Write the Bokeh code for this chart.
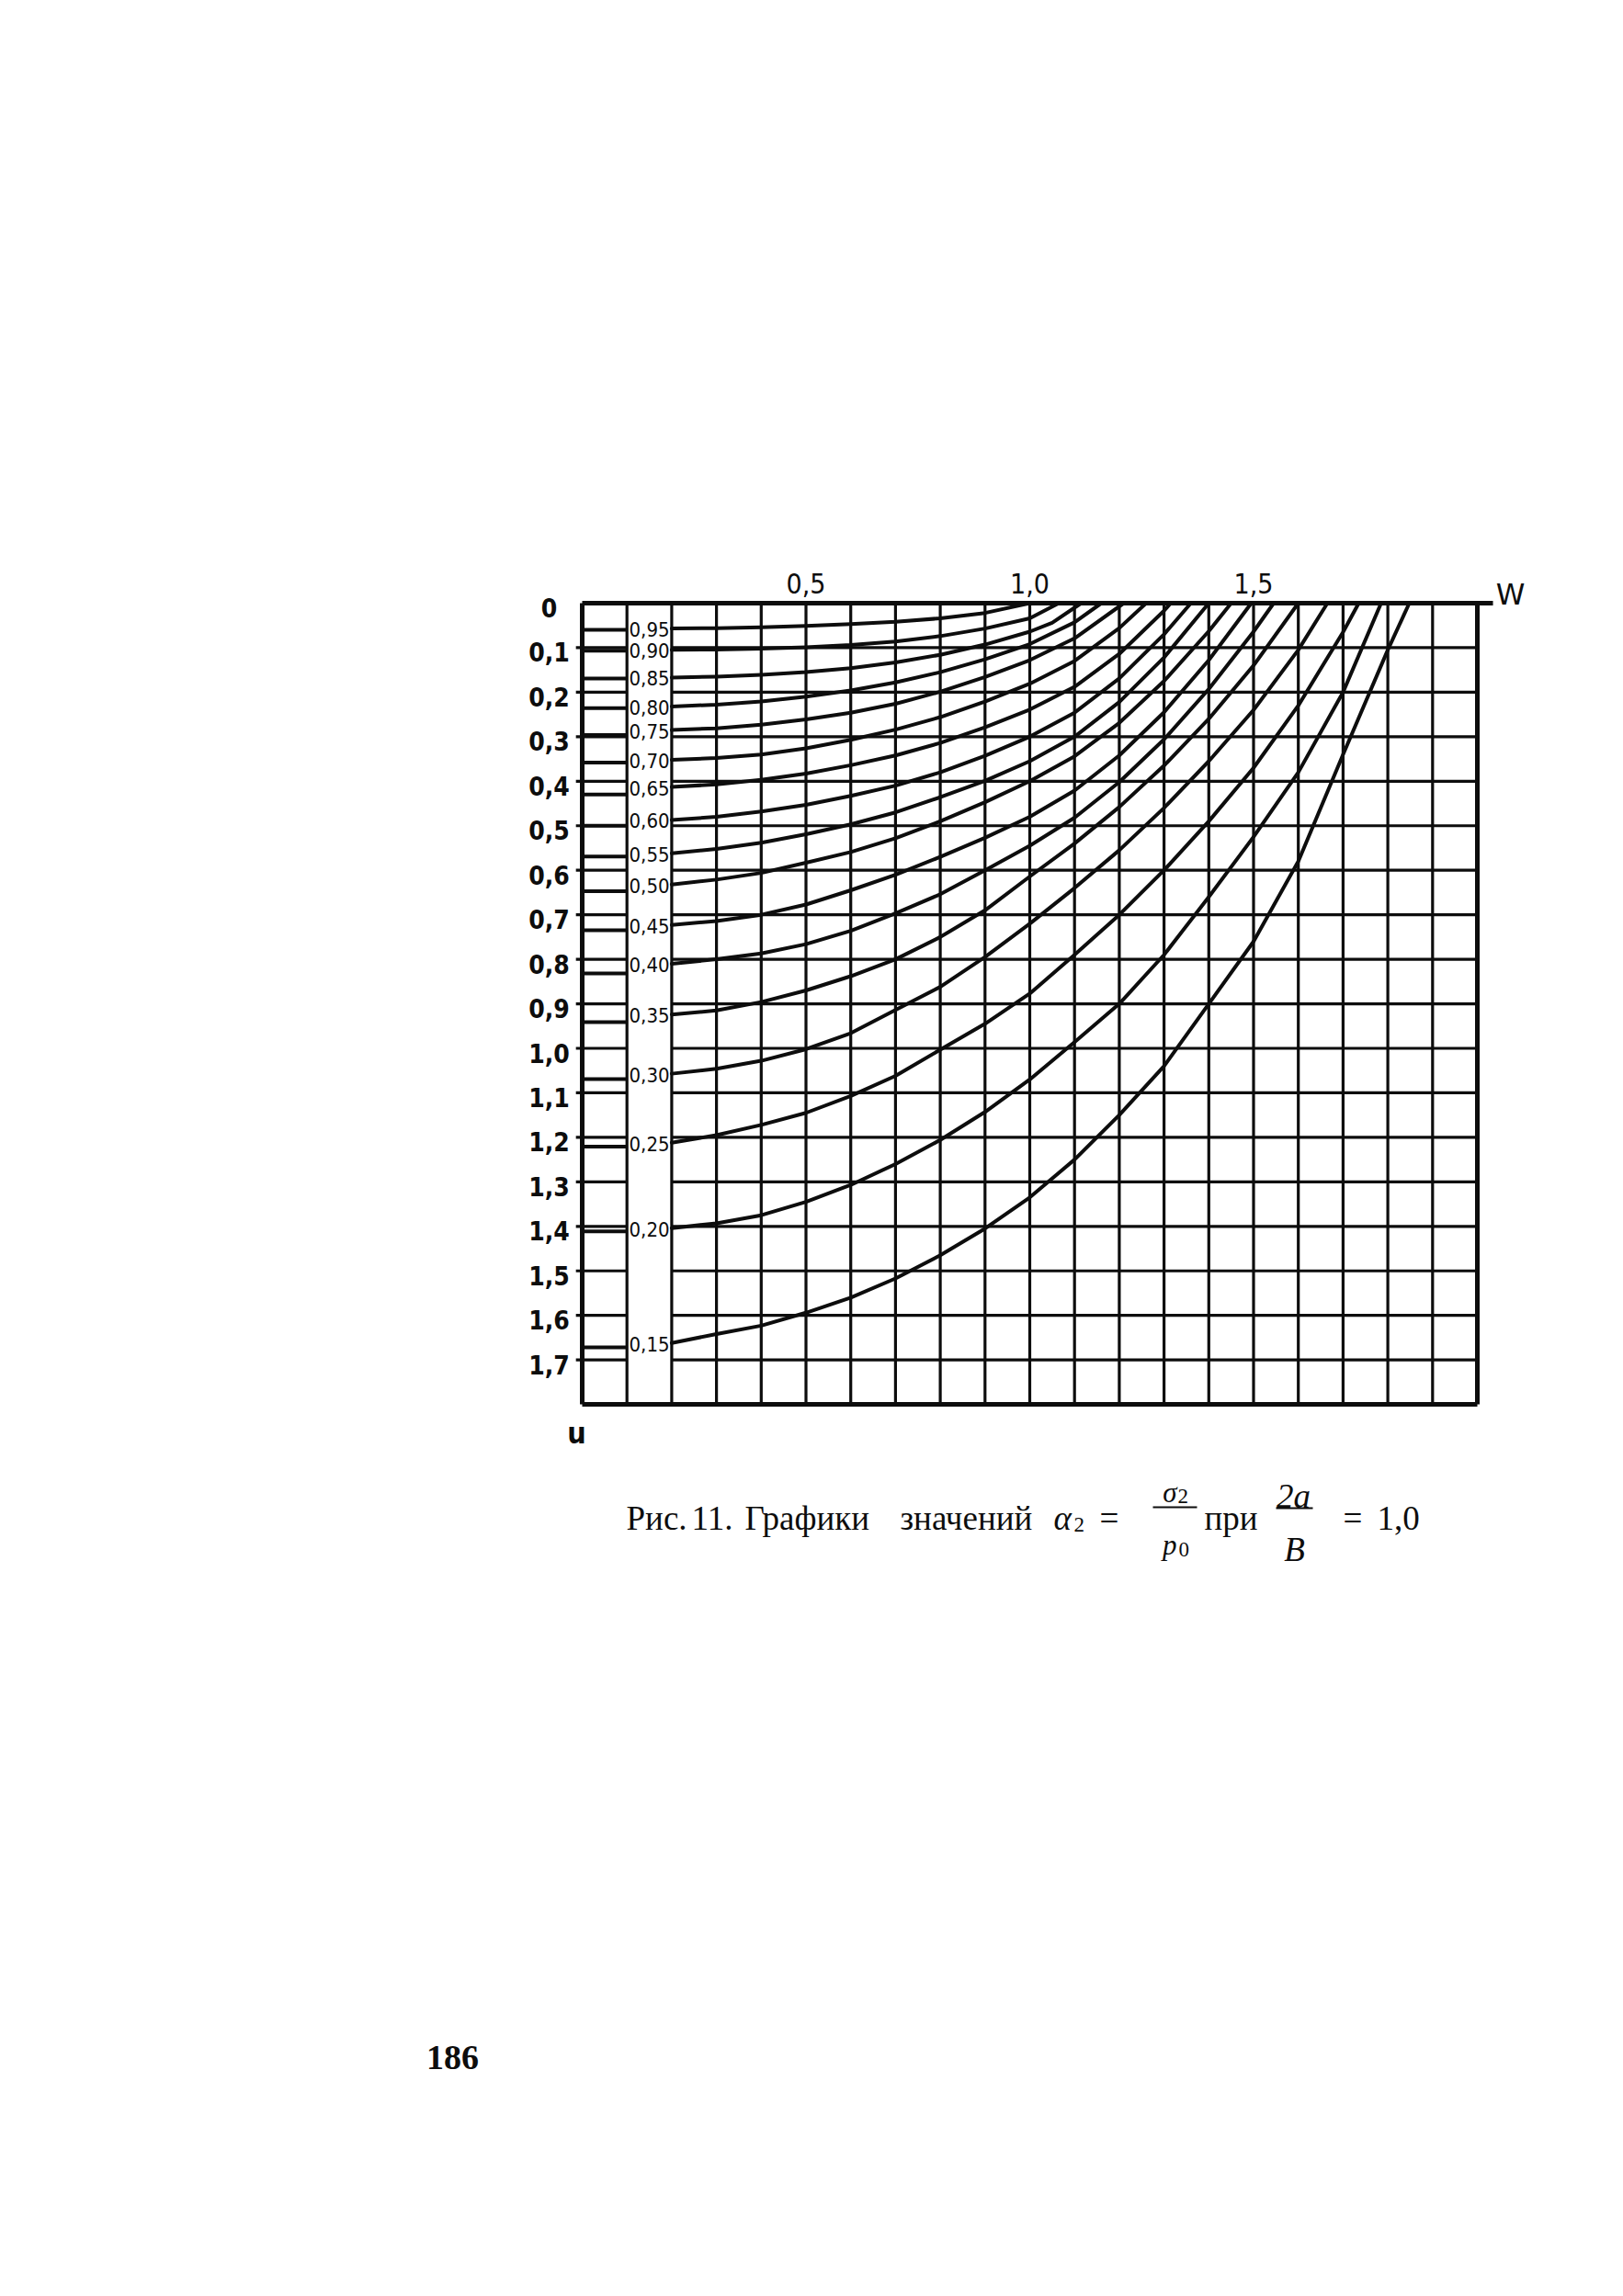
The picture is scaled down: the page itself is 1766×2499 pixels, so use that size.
import numpy as np
from bokeh.plotting import figure
from bokeh.models import Range1d
from bokeh.core.properties import value
from bokeh.embed import file_html
from bokeh.resources import INLINE

# ---------------- data ----------------
alpha_labels = ["0,95", "0,90", "0,85", "0,80", "0,75", "0,70", "0,65", "0,60", "0,55",
                "0,50", "0,45", "0,40", "0,35", "0,30", "0,25", "0,20", "0,15"]

# u level of the short stub drawn between W = 0 and W = 0.1
stub_u = [0.060, 0.107, 0.169, 0.236, 0.296, 0.358, 0.430, 0.500, 0.569,
          0.647, 0.735, 0.832, 0.941, 1.069, 1.221, 1.411, 1.672]

w_095 = [0.2, 0.3, 0.4, 0.5, 0.6, 0.7, 0.8, 0.9, 1.0]
u_095 = [0.057, 0.056, 0.054, 0.051, 0.047, 0.042, 0.034, 0.022, 0.0]

w_090 = [0.2, 0.3, 0.4, 0.5, 0.6, 0.7, 0.8, 0.9, 1.0, 1.065]
u_090 = [0.105, 0.104, 0.102, 0.099, 0.094, 0.086, 0.074, 0.057, 0.034, 0.0]

w_085 = [0.2, 0.3, 0.4, 0.5, 0.6, 0.7, 0.8, 0.9, 1.0, 1.05, 1.115]
u_085 = [0.167, 0.165, 0.161, 0.155, 0.146, 0.133, 0.116, 0.093, 0.064, 0.044, 0.0]

w_080 = [0.2, 0.3, 0.4, 0.5, 0.6, 0.7, 0.8, 0.9, 1.0, 1.1, 1.16]
u_080 = [0.232, 0.228, 0.221, 0.210, 0.196, 0.178, 0.155, 0.126, 0.092, 0.043, 0.0]

w_075 = [0.2, 0.3, 0.4, 0.5, 0.6, 0.7, 0.8, 0.9, 1.0, 1.1, 1.21]
u_075 = [0.285, 0.281, 0.273, 0.261, 0.246, 0.226, 0.199, 0.166, 0.128, 0.079, 0.0]

w_070 = [0.2, 0.3, 0.4, 0.5, 0.6, 0.7, 0.8, 0.9, 1.0, 1.1, 1.2, 1.26]
u_070 = [0.352, 0.348, 0.340, 0.326, 0.307, 0.284, 0.256, 0.221, 0.181, 0.130, 0.056, 0.0]

w_065 = [0.2, 0.3, 0.4, 0.5, 0.6, 0.7, 0.8, 0.9, 1.0, 1.1, 1.2, 1.3, 1.315]
u_065 = [0.413, 0.407, 0.397, 0.383, 0.364, 0.342, 0.314, 0.279, 0.239, 0.188, 0.114, 0.017, 0.0]

w_060 = [0.2, 0.3, 0.4, 0.5, 0.6, 0.7, 0.8, 0.9, 1.0, 1.1, 1.2, 1.3, 1.36]
u_060 = [0.487, 0.480, 0.468, 0.453, 0.433, 0.410, 0.380, 0.343, 0.300, 0.246, 0.169, 0.070, 0.0]

w_055 = [0.2, 0.3, 0.4, 0.5, 0.6, 0.7, 0.8, 0.9, 1.0, 1.1, 1.2, 1.3, 1.4]
u_055 = [0.562, 0.552, 0.538, 0.519, 0.497, 0.470, 0.436, 0.399, 0.355, 0.300, 0.222, 0.122, 0.0]

w_050 = [0.2, 0.3, 0.4, 0.5, 0.6, 0.7, 0.8, 0.9, 1.0, 1.1, 1.2, 1.3, 1.4, 1.45]
u_050 = [0.632, 0.621, 0.606, 0.583, 0.559, 0.528, 0.490, 0.447, 0.400, 0.344, 0.269, 0.175, 0.063, 0.0]

w_045 = [0.2, 0.3, 0.4, 0.5, 0.6, 0.7, 0.8, 0.9, 1.0, 1.1, 1.2, 1.3, 1.4, 1.495]
u_045 = [0.723, 0.714, 0.700, 0.677, 0.645, 0.610, 0.570, 0.527, 0.480, 0.421, 0.342, 0.245, 0.128, 0.0]

w_040 = [0.2, 0.3, 0.4, 0.5, 0.6, 0.7, 0.8, 0.9, 1.0, 1.1, 1.2, 1.3, 1.4, 1.5, 1.545]
u_040 = [0.810, 0.800, 0.787, 0.766, 0.736, 0.697, 0.654, 0.600, 0.545, 0.482, 0.402, 0.306, 0.193, 0.064, 0.0]

w_035 = [0.2, 0.3, 0.4, 0.5, 0.6, 0.7, 0.8, 0.9, 1.0, 1.1, 1.2, 1.3, 1.4, 1.5, 1.6]
u_035 = [0.924, 0.915, 0.896, 0.870, 0.838, 0.800, 0.750, 0.690, 0.614, 0.540, 0.458, 0.365, 0.260, 0.140, 0.0]

w_030 = [0.2, 0.3, 0.4, 0.5, 0.6, 0.7, 0.8, 0.9, 1.0, 1.1, 1.2, 1.3, 1.4, 1.5, 1.6, 1.665]
u_030 = [1.057, 1.046, 1.028, 1.002, 0.966, 0.914, 0.862, 0.795, 0.720, 0.640, 0.555, 0.460, 0.355, 0.240, 0.105, 0.0]

w_025 = [0.2, 0.3, 0.4, 0.5, 0.6, 0.7, 0.8, 0.9, 1.0, 1.1, 1.2, 1.3, 1.4, 1.5, 1.6, 1.7, 1.735]
u_025 = [1.212, 1.195, 1.172, 1.145, 1.107, 1.062, 1.003, 0.945, 0.877, 0.790, 0.700, 0.600, 0.490, 0.370, 0.230, 0.065, 0.0]

w_020 = [0.2, 0.3, 0.4, 0.5, 0.6, 0.7, 0.8, 0.9, 1.0, 1.1, 1.2, 1.3, 1.4, 1.5, 1.6, 1.7, 1.785]
u_020 = [1.404, 1.393, 1.375, 1.345, 1.307, 1.260, 1.206, 1.143, 1.070, 0.986, 0.900, 0.790, 0.660, 0.525, 0.380, 0.200, 0.0]

w_015 = [0.2, 0.3, 0.4, 0.5, 0.6, 0.7, 0.8, 0.9, 1.0, 1.1, 1.2, 1.3, 1.4, 1.5, 1.6, 1.7, 1.8, 1.848]
u_015 = [1.662, 1.642, 1.623, 1.594, 1.560, 1.517, 1.465, 1.405, 1.335, 1.250, 1.150, 1.040, 0.900, 0.760, 0.580, 0.340, 0.105, 0.0]

curves_w = [w_095, w_090, w_085, w_080, w_075, w_070, w_065, w_060, w_055,
            w_050, w_045, w_040, w_035, w_030, w_025, w_020, w_015]
curves_u = [u_095, u_090, u_085, u_080, u_075, u_070, u_065, u_060, u_055,
            u_050, u_045, u_040, u_035, u_030, u_025, u_020, u_015]

w_tick_values = [0.5, 1.0, 1.5]
w_tick_labels = ["0,5", "1,0", "1,5"]
u_tick_values = [0.0, 0.1, 0.2, 0.3, 0.4, 0.5, 0.6, 0.7, 0.8, 0.9,
                 1.0, 1.1, 1.2, 1.3, 1.4, 1.5, 1.6, 1.7]
u_tick_labels = ["0", "0,1", "0,2", "0,3", "0,4", "0,5", "0,6", "0,7", "0,8", "0,9",
                 "1,0", "1,1", "1,2", "1,3", "1,4", "1,5", "1,6", "1,7"]

W_MAX = 2.0
U_MAX = 1.8
GRID_STEP = 0.1
LABEL_COL = (0.1, 0.2)

# ---------------- layout ----------------
FIG_W, FIG_H = 1750, 2480
PAGE_OFF = 0          # measured offset of the figure on the photographed page
PX_PER_W = 487.0
PX_PER_U = 484.5
FX0 = 633.0           # figure px of W = 0
FY0 = 656.0           # figure px of u = 0


def dx(page_x):
    return (page_x - PAGE_OFF - FX0) / PX_PER_W


def dy(page_y):
    return (page_y - PAGE_OFF - FY0) / PX_PER_U


p = figure(width=FIG_W, height=FIG_H, output_backend="svg", toolbar_location=None,
           x_range=Range1d(dx(PAGE_OFF), dx(PAGE_OFF + FIG_W)),
           y_range=Range1d(dy(PAGE_OFF + FIG_H), dy(PAGE_OFF)),
           x_axis_location=None, y_axis_location=None, min_border=0,
           title=None)
p.outline_line_color = None
p.background_fill_color = "white"
p.border_fill_color = "white"
p.grid.visible = False

INK = "#0d0d0d"
NARROW = value("'DejaVu Sans Condensed', 'DejaVu Sans', sans-serif")
SERIF = value("'Liberation Serif', 'DejaVu Serif', serif")

GRID_LW = 3.2
CURVE_LW = 4.0
BORDER_LW = 5.0

# ---- grid ----
grid_w = np.round(np.arange(0.0, W_MAX + 1e-9, GRID_STEP), 2)
grid_u = np.round(np.arange(0.0, U_MAX + 1e-9, GRID_STEP), 2)

inner_w = [w for w in grid_w if 0 < w < W_MAX]
p.segment(x0=inner_w, x1=inner_w, y0=[0.0] * len(inner_w), y1=[U_MAX] * len(inner_w),
          line_color=INK, line_width=GRID_LW)

inner_u = [u for u in grid_u if 0 < u < U_MAX]
n = len(inner_u)
p.segment(x0=[-0.014] * n, x1=[LABEL_COL[0]] * n, y0=inner_u, y1=inner_u,
          line_color=INK, line_width=GRID_LW)
p.segment(x0=[LABEL_COL[1]] * n, x1=[W_MAX] * n, y0=inner_u, y1=inner_u,
          line_color=INK, line_width=GRID_LW)

# border
p.segment(x0=[0.0, W_MAX], x1=[0.0, W_MAX], y0=[0.0, 0.0], y1=[U_MAX, U_MAX],
          line_color=INK, line_width=BORDER_LW)
p.segment(x0=[0.0, 0.0], x1=[W_MAX + 0.035, W_MAX], y0=[0.0, U_MAX], y1=[0.0, U_MAX],
          line_color=INK, line_width=BORDER_LW)

# ---- curves ----
p.multi_line(xs=curves_w, ys=curves_u, line_color=INK, line_width=CURVE_LW,
             line_join="round", line_cap="round")
p.segment(x0=[0.0] * len(stub_u), x1=[LABEL_COL[0]] * len(stub_u), y0=stub_u, y1=stub_u,
          line_color=INK, line_width=CURVE_LW)

start_u = [u[0] for u in curves_u]
p.text(x=[(LABEL_COL[0] + LABEL_COL[1]) / 2] * len(alpha_labels), y=start_u, text=alpha_labels,
       text_font=NARROW, text_font_size="22px", text_align="center", text_baseline="middle",
       text_color=INK, y_offset=1)

# ---- tick labels ----
p.text(x=[dx(597)] * len(u_tick_values), y=u_tick_values, text=u_tick_labels,
       text_font=NARROW, text_font_size="28px", text_font_style="bold",
       text_align="center", text_baseline="middle", text_color=INK, y_offset=5)
p.text(x=w_tick_values, y=[0.0] * len(w_tick_values), text=w_tick_labels,
       text_font=NARROW, text_font_size="30px", text_align="center",
       text_baseline="bottom", text_color=INK, y_offset=-11)

p.text(x=[dx(1643)], y=[dy(646)], text=["W"], text_font=value("DejaVu Sans"),
       text_font_size="32px", text_align="center", text_baseline="middle", text_color=INK)
p.text(x=[dx(627)], y=[dy(1559)], text=["u"], text_font=NARROW, text_font_style="bold",
       text_font_size="32px", text_align="center", text_baseline="middle", text_color=INK)

# ---- caption ----
BASE = 1652
CAP_SIZE = "37px"
cap_words = ["Рис.", "11.", "Графики", "значений", "при"]
cap_x = [681, 752, 810, 979, 1310]
p.text(x=[dx(v) for v in cap_x], y=[dy(BASE)] * len(cap_words), text=cap_words,
       text_font=SERIF, text_font_size=CAP_SIZE, text_align="left",
       text_baseline="alphabetic", text_color=INK)
# alpha_2 =
p.text(x=[dx(1146)], y=[dy(BASE)], text=["α"], text_font=SERIF, text_font_style="italic",
       text_font_size=CAP_SIZE, text_align="left", text_baseline="alphabetic", text_color=INK)
p.text(x=[dx(1168), dx(1281), dx(1282)], y=[dy(BASE + 7), dy(1628), dy(1686)],
       text=["2", "2", "0"], text_font=SERIF, text_font_size="23px", text_align="left",
       text_baseline="alphabetic", text_color=INK)
p.text(x=[dx(1196), dx(1461)], y=[dy(BASE), dy(BASE)], text=["=", "="], text_font=SERIF,
       text_font_size=CAP_SIZE, text_align="left", text_baseline="alphabetic", text_color=INK)
p.text(x=[dx(1498)], y=[dy(BASE)], text=["1,0"], text_font=SERIF,
       text_font_size=CAP_SIZE, text_align="left", text_baseline="alphabetic", text_color=INK)
# fractions
p.text(x=[dx(1280), dx(1280)], y=[dy(1624), dy(1681)], text=["σ", "p"], text_font=SERIF,
       text_font_style="italic", text_font_size="31px", text_align="right",
       text_baseline="alphabetic", text_color=INK)
p.text(x=[dx(1407), dx(1408)], y=[dy(1628), dy(1686)], text=["2a", "B"], text_font=SERIF,
       text_font_style="italic", text_font_size=CAP_SIZE, text_align="center",
       text_baseline="alphabetic", text_color=INK)
p.segment(x0=[dx(1254), dx(1388)], x1=[dx(1302), dx(1428)],
          y0=[dy(1640), dy(1641)], y1=[dy(1640), dy(1641)], line_color=INK, line_width=2.2)

# page number
p.text(x=[dx(492)], y=[dy(2239)], text=["186"], text_font=SERIF, text_font_style="bold",
       text_font_size="38px", text_align="center", text_baseline="alphabetic", text_color=INK)

open("out.html", "w").write(file_html(p, INLINE))
